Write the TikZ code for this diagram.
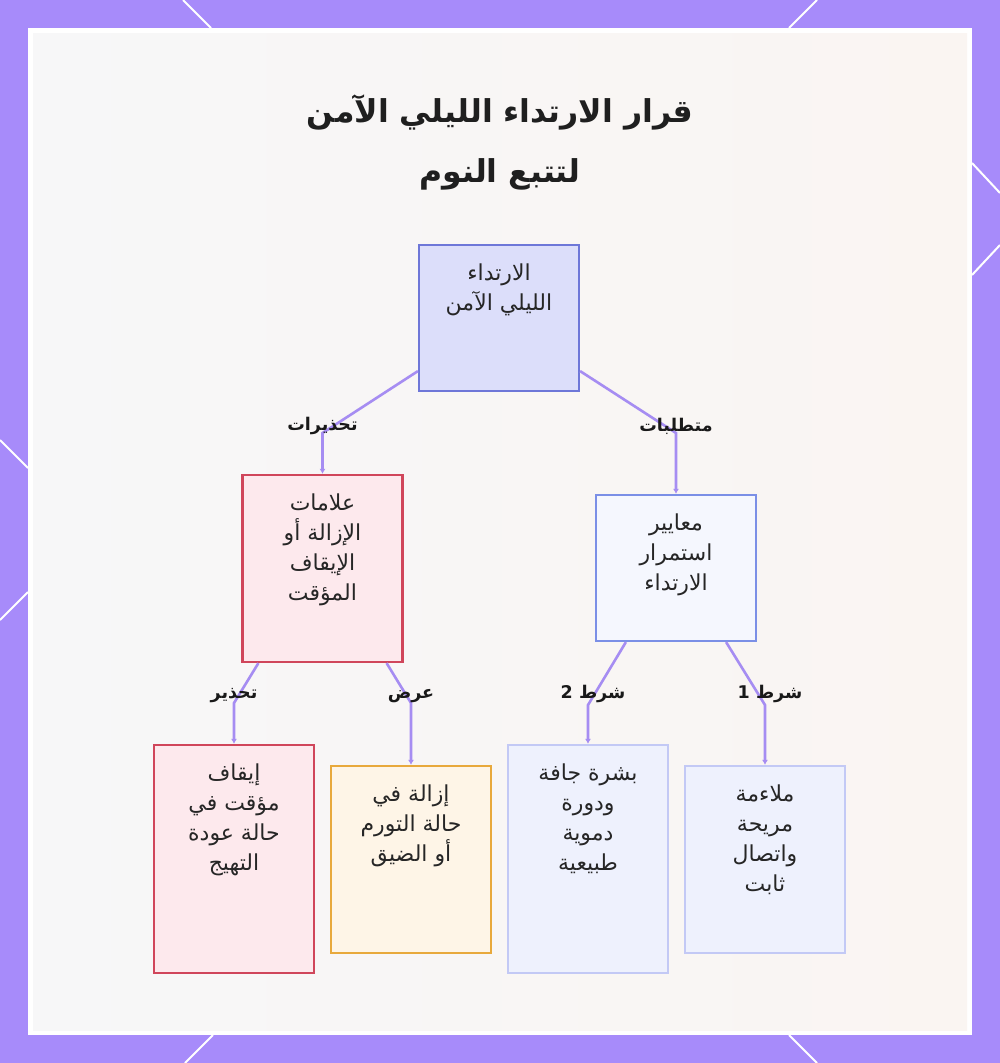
\documentclass[tikz,border=0pt]{standalone}
\usepackage{fontspec}
\usepackage{xcolor}
\usetikzlibrary{arrows.meta,calc}
\TeXXeTstate=1
\newfontfamily\arabicfont[Script=Arabic]{DejaVu Sans}
\definecolor{framepurple}{HTML}{A78BFA}
\definecolor{linkpurple}{HTML}{A68DF2}
\definecolor{bgcool}{HTML}{F7F7F8}
\definecolor{bgwarm}{HTML}{FAF5F2}
\definecolor{rootfill}{HTML}{DCDEFA}
\definecolor{rootdraw}{HTML}{6E77D8}
\definecolor{warnfill}{HTML}{FDE9ED}
\definecolor{warndraw}{HTML}{D0465B}
\definecolor{critfill}{HTML}{F5F7FE}
\definecolor{critdraw}{HTML}{7B8FE6}
\definecolor{showfill}{HTML}{FEF5E7}
\definecolor{showdraw}{HTML}{E8A93C}
\definecolor{condfill}{HTML}{EEF1FD}
\definecolor{conddraw}{HTML}{C3C9F5}

\begin{document}
\begin{tikzpicture}[x=1pt, y=-1pt,
    box/.style={draw, line width=2.2pt, minimum width=160pt, inner sep=0pt},
    boxtext/.style={anchor=north, align=center, yshift=-16pt, text=black!85,
      font=\arabicfont\fontsize{22}{30}\selectfont},
    link/.style={draw=linkpurple, line width=2.6pt, -{Latex[length=5pt,width=6pt]}},
    edgelbl/.style={font=\arabicfont\bfseries\fontsize{17.5}{20}\selectfont, text=black!90},
    title/.style={align=center, font=\arabicfont\bfseries\fontsize{31.5}{60}\selectfont, text=black!88}]
    \useasboundingbox (0,0) rectangle (1000,1063);

    % frame
    \fill[framepurple] (0,0) rectangle (1000,1063);
    \fill[white] (28,28) rectangle (972,1035);
    \shade[left color=bgcool, right color=bgwarm] (33,33) rectangle (967,1030);
    \foreach \xa/\ya/\xb/\yb in {183/0/211/28, 817/0/789/28, 972/163/1000/193, 1000/245/972/275,
        0/440/28/468, 28/592/0/620, 185/1063/213/1035, 789/1035/817/1063} {
      \draw[white, line width=2pt] (\xa,\ya) -- (\xb,\yb);
    }

    \node[title] (head) at (500,142) {\beginR قرار الارتداء الليلي الآمن\endR\\\beginR لتتبع النوم\endR};

    % boxes
    \node[box, fill=rootfill, draw=rootdraw, minimum height=146pt,
      label={[boxtext]north:{\beginR الارتداء\endR\\\beginR الليلي الآمن\endR}}] (root) at (499,318) {};
    \node[box, fill=warnfill, draw=warndraw, minimum height=187pt,
      label={[boxtext]north:{\beginR علامات\endR\\\beginR الإزالة أو\endR\\\beginR الإيقاف\endR\\\beginR المؤقت\endR}}] (warn) at (322.5,568.5) {};
    \node[box, fill=critfill, draw=critdraw, minimum height=146pt,
      label={[boxtext]north:{\beginR معايير\endR\\\beginR استمرار\endR\\\beginR الارتداء\endR}}] (crit) at (676,568) {};
    \node[box, fill=warnfill, draw=warndraw, minimum height=228pt,
      label={[boxtext]north:{\beginR إيقاف\endR\\\beginR مؤقت في\endR\\\beginR حالة عودة\endR\\\beginR التهيج\endR}}] (pause) at (234,859) {};
    \node[box, fill=showfill, draw=showdraw, minimum height=187pt,
      label={[boxtext]north:{\beginR إزالة في\endR\\\beginR حالة التورم\endR\\\beginR أو الضيق\endR}}] (remove) at (411,859.5) {};
    \node[box, fill=condfill, draw=conddraw, minimum height=228pt,
      label={[boxtext]north:{\beginR بشرة جافة\endR\\\beginR ودورة\endR\\\beginR دموية\endR\\\beginR طبيعية\endR}}] (skin) at (588,859) {};
    \node[box, fill=condfill, draw=conddraw, minimum height=187pt,
      label={[boxtext]north:{\beginR ملاءمة\endR\\\beginR مريحة\endR\\\beginR واتصال\endR\\\beginR ثابت\endR}}] (fit) at (765,859.5) {};

    % bends
    \coordinate (warnbend) at (warn.north |- 0,433);
    \coordinate (critbend) at (crit.north |- 0,433);
    \coordinate (pausebend) at (pause.north |- 0,703);
    \coordinate (removebend) at (remove.north |- 0,703);
    \coordinate (skinbend) at (skin.north |- 0,705);
    \coordinate (fitbend) at (fit.north |- 0,705);

    % connectors
    \draw[link] ([yshift=21pt]root.south west) -- (warnbend) -- (warn.north);
    \draw[link] ([yshift=21pt]root.south east) -- (critbend) -- (crit.north);
    \draw[link] ([xshift=17pt]warn.south west) -- (pausebend) -- (pause.north);
    \draw[link] ([xshift=-17pt]warn.south east) -- (removebend) -- (remove.north);
    \draw[link] ([xshift=31pt]crit.south west) -- (skinbend) -- (skin.north);
    \draw[link] ([xshift=-31pt]crit.south east) -- (fitbend) -- (fit.north);

    \node[edgelbl] (warnlbl) at ([yshift=7pt]warnbend) {\beginR تحذيرات\endR};
    \node[edgelbl] (critlbl) at ([yshift=7pt]critbend) {\beginR متطلبات\endR};
    \node[edgelbl] (pauselbl) at ([yshift=7pt]pausebend) {\beginR تحذير\endR};
    \node[edgelbl] (removelbl) at ([yshift=7pt]removebend) {\beginR عرض\endR};
    \node[edgelbl] (skinlbl) at ([xshift=5pt,yshift=11pt]skinbend) {\beginR شرط \beginL 2\endL\endR};
    \node[edgelbl] (fitlbl) at ([xshift=5pt,yshift=11pt]fitbend) {\beginR شرط \beginL 1\endL\endR};
\end{tikzpicture}
\end{document}
